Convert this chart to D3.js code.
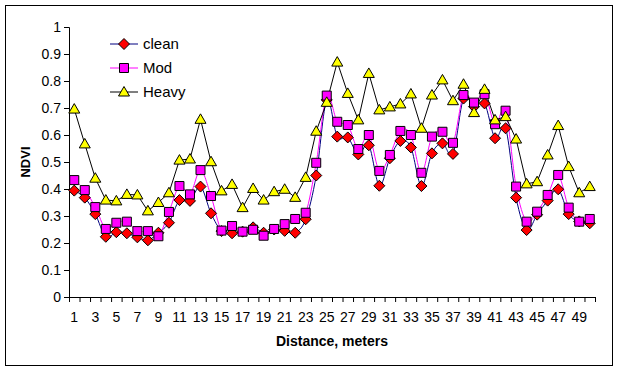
<!DOCTYPE html>
<html>
<head>
<meta charset="utf-8">
<script src="https://cdn.jsdelivr.net/npm/d3@7"></script>
<style>
  body { margin: 0; background: #fff; }
  svg text { font-family: "Liberation Sans", Arial, sans-serif; }
</style>
</head>
<body>
<div id="chart"></div>
<script>
// distance along transect, 1..50 meters
var distance = d3.range(1, 51);
var xLabels = distance.filter(function(d) { return d % 2 === 1; });
var yTicks = [0, 0.1, 0.2, 0.3, 0.4, 0.5, 0.6, 0.7, 0.8, 0.9, 1];

var clean = [0.394, 0.368, 0.307, 0.223, 0.24, 0.236, 0.221, 0.21, 0.238, 0.275,
             0.359, 0.356, 0.409, 0.31, 0.244, 0.236, 0.242, 0.258, 0.238, 0.25,
             0.245, 0.238, 0.288, 0.45, 0.73, 0.594, 0.591, 0.528, 0.562, 0.412,
             0.514, 0.578, 0.554, 0.411, 0.532, 0.569, 0.53, 0.735, 0.705, 0.717,
             0.588, 0.625, 0.368, 0.248, 0.305, 0.357, 0.399, 0.307, 0.28, 0.273];
var mod = [0.433, 0.396, 0.333, 0.252, 0.275, 0.279, 0.244, 0.244, 0.225, 0.315,
           0.411, 0.38, 0.47, 0.374, 0.246, 0.263, 0.242, 0.249, 0.227, 0.252,
           0.27, 0.289, 0.312, 0.497, 0.746, 0.649, 0.637, 0.548, 0.6, 0.467,
           0.526, 0.615, 0.6, 0.46, 0.594, 0.612, 0.571, 0.748, 0.72, 0.751,
           0.64, 0.69, 0.409, 0.279, 0.316, 0.378, 0.452, 0.331, 0.279, 0.289];
var heavy = [0.696, 0.567, 0.44, 0.359, 0.356, 0.38, 0.378, 0.319, 0.35, 0.386,
             0.507, 0.511, 0.658, 0.501, 0.393, 0.417, 0.331, 0.402, 0.359, 0.39,
             0.399, 0.369, 0.443, 0.614, 0.721, 0.87, 0.754, 0.656, 0.828, 0.693,
             0.704, 0.715, 0.752, 0.625, 0.748, 0.804, 0.727, 0.788, 0.683, 0.769,
             0.656, 0.668, 0.585, 0.419, 0.427, 0.526, 0.635, 0.483, 0.386, 0.409];

var W = 619, H = 371;
var plotL = 69, plotR = 595, plotT = 27, plotB = 297;

var svg = d3.select("#chart").append("svg").attr("width", W).attr("height", H);

// outer frame
svg.append("rect").attr("x", 5.5).attr("y", 5.5).attr("width", 607).attr("height", 360)
    .attr("fill", "#fff").attr("stroke", "#000").attr("stroke-width", 1);

var xEdge = d3.scaleLinear().domain([0, 50]).range([plotL, plotR]);
var x = function(d) { return xEdge(d - 0.5); };
var y = d3.scaleLinear().domain([0, 1]).range([plotB, plotT]);

// y axis
var yAxis = svg.append("g").attr("transform", "translate(" + plotL + ",0)")
    .call(d3.axisLeft(y).tickValues(yTicks).tickSize(5).tickPadding(3)
        .tickFormat(function(d) { return d === 0 || d === 1 ? d : d.toFixed(1); }));
yAxis.select(".domain").attr("stroke", "#000");
yAxis.selectAll("text").attr("font-size", 14).attr("fill", "#000")
    .attr("font-family", "Liberation Sans, Arial, sans-serif");

// x axis: ticks on category boundaries, labels on odd categories
var xAxis = svg.append("g").attr("transform", "translate(0," + plotB + ")")
    .call(d3.axisBottom(xEdge).tickValues(d3.range(0, 51)).tickSize(5).tickFormat(""));
xAxis.select(".domain").attr("stroke", "#000");
svg.append("g").selectAll("text").data(xLabels).enter().append("text")
    .attr("x", function(d) { return x(d); })
    .attr("y", 322)
    .attr("text-anchor", "middle")
    .attr("font-size", 14)
    .text(function(d) { return d; });

// axis titles
svg.append("text").attr("x", 332).attr("y", 346).attr("text-anchor", "middle")
    .attr("font-size", 14).attr("font-weight", "bold").text("Distance, meters");
svg.append("text").attr("transform", "translate(30,162) rotate(-90)")
    .attr("text-anchor", "middle").attr("font-size", 13).attr("font-weight", "bold")
    .text("NDVI");

var series = [
    {name: "clean", values: clean, line: "#000080", fill: "#ff0000", shape: "diamond", smooth: true},
    {name: "Mod", values: mod, line: "#ff00ff", fill: "#ff00ff", shape: "square", smooth: true},
    {name: "Heavy", values: heavy, line: "#000000", fill: "#ffff00", shape: "triangle", smooth: false}
];

function markerPath(shape) {
    if (shape === "diamond") return "M0,-5.5L5.5,0L0,5.5L-5.5,0Z";
    if (shape === "square") return "M-4.5,-4.5H4.5V4.5H-4.5Z";
    return "M0,-5.5L5.5,4L-5.5,4Z";
}

series.forEach(function(s) {
    var line = d3.line()
        .x(function(d, i) { return x(distance[i]); })
        .y(function(d) { return y(d); })
        .curve(s.smooth ? d3.curveCatmullRom.alpha(0) : d3.curveLinear);
    svg.append("path").datum(s.values)
        .attr("d", line)
        .attr("fill", "none")
        .attr("stroke", s.line)
        .attr("stroke-width", 1);
});

series.forEach(function(s) {
    svg.append("g").selectAll("path").data(s.values).enter().append("path")
        .attr("transform", function(d, i) { return "translate(" + x(distance[i]) + "," + y(d) + ")"; })
        .attr("d", markerPath(s.shape))
        .attr("fill", s.fill)
        .attr("stroke", "#000")
        .attr("stroke-width", 1);
});

// legend
var legend = svg.append("g");
series.forEach(function(s, i) {
    var ly = 44 + i * 24;
    legend.append("line").attr("x1", 110).attr("x2", 138).attr("y1", ly).attr("y2", ly)
        .attr("stroke", s.line).attr("stroke-width", 1);
    legend.append("path").attr("transform", "translate(124," + ly + ")")
        .attr("d", markerPath(s.shape)).attr("fill", s.fill)
        .attr("stroke", "#000").attr("stroke-width", 1);
    legend.append("text").attr("x", 143).attr("y", ly + 5).attr("font-size", 15).text(s.name);
});
</script>
</body>
</html>
